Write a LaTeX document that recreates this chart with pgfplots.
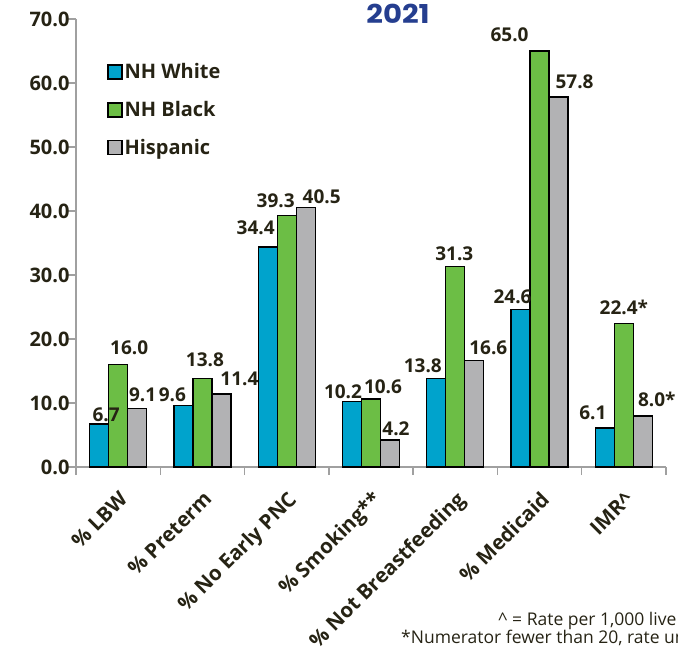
\documentclass[border=0pt]{standalone}
\usepackage{fontspec}
\setmainfont{Open Sans}
\newfontfamily\titlefont{Poppins}[FakeStretch=1.12]
\usepackage{pgfplots}
\usepackage{pgfplotstable}
\pgfplotsset{compat=1.18}
\definecolor{cwhite}{HTML}{00A3CC}
\definecolor{cblack}{HTML}{6CBE45}
\definecolor{chisp}{HTML}{B2B2B4}
\definecolor{axisgray}{HTML}{A0A0A0}
\definecolor{textc}{HTML}{262314}
\definecolor{titleblue}{RGB}{37,62,143}

\pgfplotstableread{
x y lab dx dy
0 6.7 6.7 7 3
1 9.6 9.6 -11 4
2 34.4 34.4 -12 12
3 10.2 10.2 -9 3
4 13.8 13.8 -13.5 6
5 24.6 24.6 -8 6
6 6.1 6.1 -12 8
}\nhwhite
\pgfplotstableread{
x y lab dx dy
0 16.0 16.0 11 10
1 13.8 13.8 2.5 12
2 39.3 39.3 -11 8
3 10.6 10.6 12 6
4 31.3 31.3 -1 6
5 65.0 65.0 -30 9
6 22.4 22.4* 0 9
}\nhblack
\pgfplotstableread{
x y lab dx dy
0 9.1 9.1 5.5 7
1 11.4 11.4 18 9
2 40.5 40.5 16 4
3 4.2 4.2 6 5
4 16.6 16.6 14 6
5 57.8 57.8 16 9
6 8.0 8.0* 14 9
}\hisp

\pgfplotsset{
  lbl/.style={
    nodes near coords,
    point meta=explicit symbolic,
    visualization depends on={\thisrow{dx}\as\labdx},
    visualization depends on={\thisrow{dy}\as\labdy},
    every node near coord/.append style={anchor=base, inner sep=0pt,
      font=\bfseries\fontsize{19}{19}\selectfont, text=textc,
      xshift=\labdx pt, yshift=\labdy pt},
  }
}

\begin{document}
\begin{tikzpicture}[x=1pt,y=1pt]
\path[use as bounding box] (0,0) rectangle (678,654);
\begin{axis}[
  at={(76pt,187pt)}, anchor=south west,
  scale only axis, width=590pt, height=448pt,
  xmin=-0.5, xmax=6.5, ymin=0, ymax=70,
  axis lines*=left,
  axis line style={draw=axisgray, line width=1.5pt},
  tick align=outside, major tick length=8pt,
  tick style={draw=axisgray, line width=1.5pt},
  ytick={0,10,20,30,40,50,60,70},
  yticklabels={0.0,10.0,20.0,30.0,40.0,50.0,60.0,70.0},
  y tick label style={font=\bfseries\fontsize{20}{20}\selectfont, text=textc, xshift=5pt},
  xtick={-0.5,0.5,1.5,2.5,3.5,4.5,5.5,6.5},
  xticklabels={},
  extra x ticks={0,1,2,3,4,5,6},
  extra x tick labels={\%~LBW,\%~Preterm,\%~No Early PNC,\%~Smoking**,\%~Not Breastfeeding,\%~Medicaid,IMR\textasciicircum},
  extra x tick style={major tick length=0pt,
    tick label style={rotate=45, anchor=north east, inner sep=0pt,
      font=\bfseries\fontsize{20.5}{20.5}\selectfont, text=textc,
      xshift=-16pt, yshift=-16pt}},
  ybar=0pt, bar width=19pt,
  legend style={draw=none, fill=none, at={(0.0525,0.905)}, anchor=north west,
    font=\bfseries\fontsize{20}{20}\selectfont, text=textc, row sep=17pt,
    inner sep=0pt},
  legend cell align=left,
  legend image code/.code={\draw[#1] (0pt,-7pt) rectangle (14pt,7pt);},
]
\addplot[fill=cwhite, draw=black, line width=1.4pt, lbl] table[x=x, y=y, meta=lab]{\nhwhite};
\addlegendentry{NH White}
\addplot[fill=cblack, draw=black, line width=1.4pt, lbl] table[x=x, y=y, meta=lab]{\nhblack};
\addlegendentry{NH Black}
\addplot[fill=chisp, draw=black, line width=1.4pt, lbl] table[x=x, y=y, meta=lab]{\hisp};
\addlegendentry{Hispanic}
\end{axis}
\node[anchor=base, inner sep=0pt, text=titleblue, font=\titlefont\bfseries\fontsize{26}{26}\selectfont] at (398,630) {2021};
\node[anchor=base west, inner sep=0pt, text=textc, font=\fontsize{17.5}{17.5}\selectfont] at (498,28) {\textasciicircum{} = Rate per 1,000 live births};
\node[anchor=base west, inner sep=0pt, text=textc, font=\fontsize{17.5}{17.5}\selectfont] at (401,11) {*Numerator fewer than 20, rate unstable};
\end{tikzpicture}
\end{document}
